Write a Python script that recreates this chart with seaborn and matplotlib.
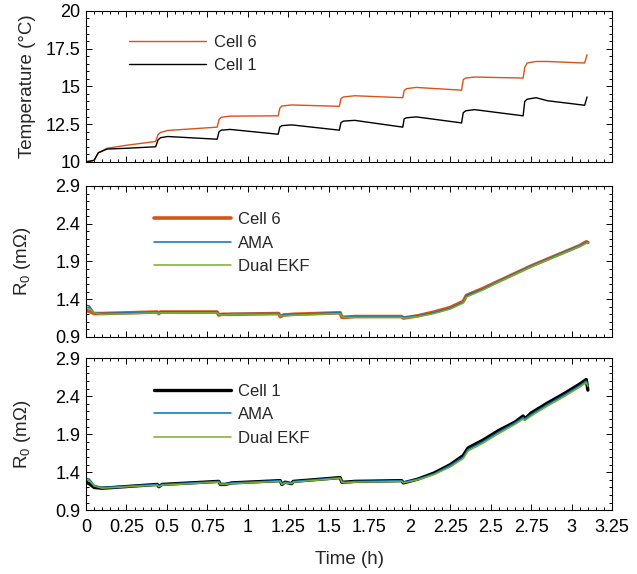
import matplotlib
matplotlib.use("Agg")
import matplotlib.pyplot as plt
from matplotlib.ticker import MultipleLocator
import seaborn as sns
import pandas as pd

# ---------------- data ----------------
t_temp = [0, 0.05, 0.076, 0.13, 0.25, 0.43, 0.445, 0.46, 0.505, 0.81, 0.822, 0.835,
          0.89, 1.187, 1.197, 1.21, 1.27, 1.565, 1.575, 1.59, 1.66, 1.957, 1.965, 1.98,
          2.04, 2.32, 2.33, 2.345, 2.40, 2.70, 2.71, 2.725, 2.78, 2.85, 3.08, 3.095]
temp_cell6 = [10.0, 10.1, 10.6, 10.9, 11.1, 11.35, 11.8, 11.95, 12.08, 12.3, 12.8, 12.95,
              13.03, 13.05, 13.55, 13.7, 13.77, 13.68, 14.2, 14.3, 14.38, 14.25, 14.72, 14.85,
              14.93, 14.75, 15.45, 15.55, 15.62, 15.55, 16.25, 16.55, 16.65, 16.65, 16.55, 17.1]
temp_cell1 = [10.0, 10.1, 10.6, 10.85, 10.9, 11.0, 11.45, 11.6, 11.68, 11.5, 12.0, 12.1,
              12.15, 11.83, 12.3, 12.4, 12.45, 12.1, 12.6, 12.7, 12.75, 12.3, 12.85, 12.92,
              12.98, 12.58, 13.25, 13.38, 13.46, 13.05, 14.0, 14.15, 14.25, 14.05, 13.75, 14.3]

t_r6 = [0, 0.02, 0.05, 0.1, 0.44, 0.45, 0.46, 0.81, 0.82, 0.84, 0.9, 1.19, 1.2, 1.22, 1.28,
        1.57, 1.58, 1.6, 1.66, 1.95, 1.96, 2.05, 2.15, 2.25, 2.33, 2.35, 2.45, 2.55, 2.65,
        2.75, 2.85, 2.95, 3.05, 3.09, 3.1]
r0_cell6 = [1.25, 1.24, 1.21, 1.21, 1.23, 1.21, 1.23, 1.23, 1.19, 1.20, 1.20, 1.21, 1.17, 1.19,
            1.20, 1.22, 1.16, 1.16, 1.17, 1.17, 1.15, 1.18, 1.23, 1.29, 1.37, 1.45, 1.54, 1.64,
            1.74, 1.84, 1.93, 2.02, 2.11, 2.16, 2.15]
r0_ama6 = [1.32, 1.31, 1.22, 1.21, 1.23, 1.22, 1.23, 1.23, 1.20, 1.20, 1.21, 1.21, 1.18, 1.19,
           1.20, 1.22, 1.17, 1.17, 1.17, 1.17, 1.16, 1.18, 1.22, 1.28, 1.36, 1.45, 1.53, 1.64,
           1.74, 1.84, 1.93, 2.02, 2.11, 2.15, 2.16]
r0_ekf6 = [1.29, 1.28, 1.22, 1.20, 1.22, 1.21, 1.22, 1.22, 1.20, 1.19, 1.20, 1.20, 1.18, 1.18,
           1.19, 1.21, 1.17, 1.16, 1.16, 1.16, 1.15, 1.17, 1.21, 1.27, 1.35, 1.43, 1.52, 1.63,
           1.73, 1.83, 1.92, 2.01, 2.10, 2.14, 2.15]

t_r1 = [0, 0.02, 0.05, 0.1, 0.44, 0.45, 0.47, 0.82, 0.83, 0.86, 0.9, 1.2, 1.21, 1.23, 1.27,
        1.28, 1.57, 1.58, 1.6, 1.66, 1.95, 1.96, 2.05, 2.15, 2.25, 2.33, 2.36, 2.45, 2.55,
        2.65, 2.7, 2.71, 2.75, 2.85, 2.95, 3.05, 3.09, 3.1]
r0_cell1 = [1.27, 1.25, 1.20, 1.19, 1.24, 1.21, 1.24, 1.28, 1.24, 1.24, 1.26, 1.29, 1.24, 1.27,
            1.25, 1.28, 1.33, 1.27, 1.27, 1.28, 1.29, 1.26, 1.31, 1.39, 1.50, 1.62, 1.72, 1.82,
            1.95, 2.06, 2.14, 2.10, 2.18, 2.31, 2.43, 2.56, 2.62, 2.48]
r0_ama1 = [1.32, 1.31, 1.23, 1.20, 1.24, 1.22, 1.24, 1.28, 1.25, 1.25, 1.26, 1.29, 1.25, 1.27,
           1.26, 1.28, 1.33, 1.28, 1.27, 1.28, 1.29, 1.27, 1.31, 1.38, 1.49, 1.60, 1.70, 1.80,
           1.93, 2.05, 2.12, 2.10, 2.16, 2.29, 2.41, 2.54, 2.60, 2.55]
r0_ekf1 = [1.30, 1.29, 1.22, 1.19, 1.23, 1.21, 1.23, 1.27, 1.24, 1.24, 1.25, 1.28, 1.24, 1.26,
           1.25, 1.27, 1.32, 1.27, 1.26, 1.27, 1.28, 1.26, 1.30, 1.37, 1.47, 1.58, 1.68, 1.78,
           1.91, 2.03, 2.10, 2.08, 2.14, 2.27, 2.39, 2.52, 2.58, 2.53]

x_ticks = [0, 0.25, 0.5, 0.75, 1, 1.25, 1.5, 1.75, 2, 2.25, 2.5, 2.75, 3, 3.25]
x_ticklabels = ["0", "0.25", "0.5", "0.75", "1", "1.25", "1.5", "1.75", "2", "2.25",
                "2.5", "2.75", "3", "3.25"]
temp_ticks = [10, 12.5, 15, 17.5, 20]
r_ticks = [0.9, 1.4, 1.9, 2.4, 2.9]

ORANGE = "#D95319"
BLUE = "#0072BD"
GREEN = "#77AC30"

# ---------------- style ----------------
sns.set_style("white")
plt.rcParams["font.family"] = ["Liberation Sans", "DejaVu Sans"]
plt.rcParams["mathtext.fontset"] = "custom"
plt.rcParams["mathtext.rm"] = "Liberation Sans"
plt.rcParams["mathtext.it"] = "Liberation Sans"
TFS = 13
LFS = 13.5
GFS = 12

fig = plt.figure(figsize=(6.37, 5.74), dpi=100)
L, R = 0.135, 0.961
ax1 = fig.add_axes([L, 0.718, R - L, 0.263])
ax2 = fig.add_axes([L, 0.413, R - L, 0.263])
ax3 = fig.add_axes([L, 0.111, R - L, 0.265])

df_t = pd.DataFrame({"t": t_temp, "c6": temp_cell6, "c1": temp_cell1})
sns.lineplot(data=df_t, x="t", y="c6", ax=ax1, color=ORANGE, lw=1.0, label="Cell 6",
             estimator=None, sort=False)
sns.lineplot(data=df_t, x="t", y="c1", ax=ax1, color="black", lw=1.0, label="Cell 1",
             estimator=None, sort=False)

df6 = pd.DataFrame({"t": t_r6, "c": r0_cell6, "a": r0_ama6, "e": r0_ekf6})
sns.lineplot(data=df6, x="t", y="c", ax=ax2, color=ORANGE, lw=2.6, label="Cell 6",
             estimator=None, sort=False)
sns.lineplot(data=df6, x="t", y="a", ax=ax2, color=BLUE, lw=1.1, label="AMA",
             estimator=None, sort=False)
sns.lineplot(data=df6, x="t", y="e", ax=ax2, color=GREEN, lw=1.1, label="Dual EKF",
             estimator=None, sort=False)

df1 = pd.DataFrame({"t": t_r1, "c": r0_cell1, "a": r0_ama1, "e": r0_ekf1})
sns.lineplot(data=df1, x="t", y="c", ax=ax3, color="black", lw=2.4, label="Cell 1",
             estimator=None, sort=False)
sns.lineplot(data=df1, x="t", y="a", ax=ax3, color=BLUE, lw=1.1, label="AMA",
             estimator=None, sort=False)
sns.lineplot(data=df1, x="t", y="e", ax=ax3, color=GREEN, lw=1.1, label="Dual EKF",
             estimator=None, sort=False)

for ax in (ax1, ax2, ax3):
    ax.set_xlim(0, 3.25)
    ax.set_xticks(x_ticks)
    ax.xaxis.set_minor_locator(MultipleLocator(0.05))
    ax.tick_params(which="both", direction="in", top=True, right=True,
                   bottom=True, left=True, labelsize=TFS, colors="black", width=0.7)
    ax.tick_params(which="major", length=4.5)
    ax.tick_params(which="minor", length=2.2)
    ax.tick_params(axis="x", which="major", pad=6)
    ax.tick_params(axis="y", which="major", pad=4)
    for s in ax.spines.values():
        s.set_color("black")
        s.set_linewidth(0.8)
    ax.set_xlabel("")

ax1.set_ylim(10, 20)
ax1.set_yticks(temp_ticks)
ax1.set_yticklabels(["10", "12.5", "15", "17.5", "20"])
ax1.yaxis.set_minor_locator(MultipleLocator(0.5))
ax1.set_ylabel("Temperature (°C)", fontsize=LFS)

for ax in (ax2, ax3):
    ax.set_ylim(0.9, 2.9)
    ax.set_yticks(r_ticks)
    ax.set_yticklabels(["0.9", "1.4", "1.9", "2.4", "2.9"])
    ax.yaxis.set_minor_locator(MultipleLocator(0.1))
    ax.set_ylabel("R$_0$ (mΩ)", fontsize=LFS)

ax1.set_xticklabels([])
ax2.set_xticklabels([])
ax3.set_xticklabels(x_ticklabels)
ax3.set_xlabel("Time (h)", fontsize=LFS)
ax3.xaxis.set_label_coords(0.5, -0.27)

ax1.yaxis.set_label_coords(-0.095, 0.5)
for ax in (ax2, ax3):
    ax.yaxis.set_label_coords(-0.1, 0.5)

leg_kw = dict(frameon=False, fontsize=GFS, handlelength=4.6, handletextpad=0.45,
              labelspacing=0.5, borderaxespad=0.0, loc="upper left")
ax1.legend(bbox_to_anchor=(0.07, 0.885), **leg_kw)
ax2.legend(bbox_to_anchor=(0.117, 0.87), **leg_kw)
ax3.legend(bbox_to_anchor=(0.117, 0.875), **leg_kw)

fig.savefig("out.png", dpi=100)
